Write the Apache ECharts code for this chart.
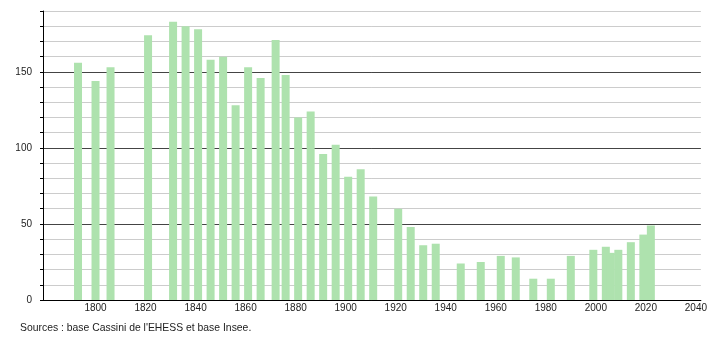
<!DOCTYPE html>
<html>
<head>
<meta charset="utf-8">
<script src="https://cdn.jsdelivr.net/npm/echarts@6/dist/echarts.min.js"></script>
<style>
  html, body { margin: 0; padding: 0; background: #fff; }
  #chart { width: 710px; height: 340px; }
</style>
</head>
<body>
<div id="chart"></div>
<script>
// 人口数据
const years = [1793, 1800, 1806, 1821, 1831, 1836, 1841, 1846, 1851, 1856, 1861, 1866, 1872, 1876,
  1881, 1886, 1891, 1896, 1901, 1906, 1911, 1921, 1926, 1931, 1936, 1946, 1954, 1962, 1968,
  1975, 1982, 1990, 1999, 2004, 2006, 2009, 2014, 2019, 2022]
const population = [156, 144, 153, 174, 183, 180, 178, 158, 160, 128, 153, 146, 171, 148,
  120, 124, 96, 102, 81, 86, 68, 60, 48, 36, 37, 24, 25, 29, 28,
  14, 14, 29, 33, 35, 31, 33, 38, 43, 49]
const xTicks = [1800, 1820, 1840, 1860, 1880, 1900, 1920, 1940, 1960, 1980, 2000, 2020, 2040]
const yLabels = [0, 50, 100, 150]
const source = "Sources : base Cassini de l'EHESS et base Insee."

const barData = years.map((y, i) => [y, population[i]])

const chart = echarts.init(document.getElementById('chart'))

const font = 'Liberation Sans, Arial, sans-serif'

const option = {
  animation: false,
  textStyle: { fontFamily: font },
  grid: { left: 43, right: 9, top: 11, bottom: 40 },
  graphic: [{
    type: 'text',
    left: 20,
    top: 323,
    style: { text: source, fontSize: 10.4, fontFamily: font, fill: '#222' }
  }],
  xAxis: {
    type: 'value',
    min: 1779,
    max: 2042,
    axisLine: { show: true, lineStyle: { color: '#000', width: 1 } },
    axisTick: { show: false },
    splitLine: { show: false },
    axisLabel: {
      customValues: xTicks,
      margin: 3,
      fontSize: 10,
      color: '#222',
      fontFamily: font,
      formatter: (v) => String(v)
    }
  },
  yAxis: {
    type: 'value',
    min: 0,
    max: 190,
    interval: 10,
    axisLine: { show: true, lineStyle: { color: '#000', width: 1 } },
    axisTick: { show: true, length: 3, lineStyle: { color: '#000' } },
    axisLabel: {
      margin: 11,
      fontSize: 10,
      color: '#222',
      fontFamily: font,
      formatter: (v) => yLabels.includes(v) ? String(v) : ''
    },
    // 每50一条深色线，其余浅灰
    splitLine: {
      show: true,
      lineStyle: { color: ['#444', '#cccccc', '#cccccc', '#cccccc', '#cccccc'], width: 1 }
    }
  },
  series: [{
    type: 'bar',
    data: barData,
    barWidth: 8,
    itemStyle: { color: '#aee2ae' }
  }]
}

chart.setOption(option)
</script>
</body>
</html>
